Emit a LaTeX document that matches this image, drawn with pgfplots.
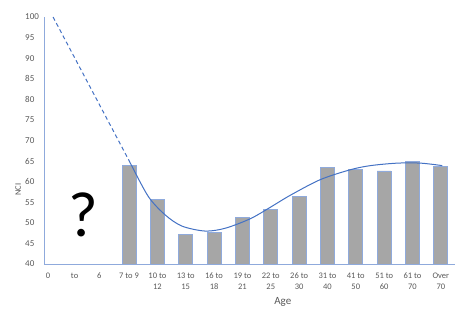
\documentclass[border=0pt]{standalone}
\usepackage{pgfplots}
\pgfplotsset{compat=1.18}
\usepackage{fontspec}
\setmainfont{Carlito}
\usetikzlibrary{calc}
\definecolor{axblue}{RGB}{143,170,220}
\definecolor{barfill}{RGB}{166,166,166}
\definecolor{trend}{RGB}{68,114,196}
\definecolor{txtgray}{RGB}{89,89,89}
\begin{document}
\begin{tikzpicture}
\begin{axis}[
  name=ax,
  scale only axis,
  width=411pt, height=247pt,
  xmin=0, xmax=14.5,
  ymin=40, ymax=100,
  axis x line=bottom, axis y line=left,
  axis line style={-, draw=axblue, line width=0.8pt},
  clip=false,
  ytick={40,45,...,100},
  xtick={0.14,1.08,1.95,3,4,5,6,7,8,9,10,11,12,13,14},
  xticklabels={0,to,6,7 to 9,10 to\\12,13 to\\15,16 to\\18,19 to\\21,22 to\\25,26 to\\30,31 to\\40,41 to\\50,51 to\\60,61 to\\70,Over\\70},
  major tick length=0pt,
  /pgf/number format/assume math mode=true,
  tick label style={text=txtgray},
  yticklabel style={anchor=west, inner sep=0pt, xshift=-19pt, font=\fontsize{9}{11}\selectfont},
  xticklabel style={align=center, anchor=north, inner sep=0pt, yshift=-9pt, font=\fontsize{8.5}{10.5}\selectfont},
  ylabel={NCI},
  ylabel style={at={(axis description cs:-0.063,0.30)}, anchor=center, font=\fontsize{8.5}{10}\selectfont, text=txtgray},
  xlabel={Age},
  xlabel style={at={(axis description cs:0.581,-0.154)}, anchor=center, font=\fontsize{11}{13}\selectfont, text=txtgray},
]
\addplot[ybar, bar width=14pt, fill=barfill, draw=axblue, line width=0.8pt] coordinates {
  (3,63.9) (4,55.7) (5,47.1) (6,47.6) (7,51.2) (8,53.3) (9,56.3) (10,63.4) (11,63.0) (12,62.6) (13,64.9) (14,63.8)
};
\addplot[trend, line width=1pt, dash pattern=on 4pt off 3pt] coordinates {
  (0.32,100) (3.04,64.6)
};
\addplot[trend, line width=1pt, smooth] coordinates {
  (3.04,64.6) (3.68,56.4) (4.28,51.9) (4.87,49.2) (5.69,48.0) (6.40,48.7) (7.28,51.0) (7.99,53.8) (8.69,56.7) (9.75,60.5) (10.81,62.9) (11.52,63.9) (12.46,64.5) (13.29,64.5) (14.05,63.9)
};
\node[font=\fontsize{64}{64}\selectfont, text=black] at (axis cs:1.38,52) {?};
\end{axis}
\path[use as bounding box] ($(ax.south west)+(-44pt,-50pt)$) rectangle ($(ax.north east)+(15pt,17pt)$);
\end{tikzpicture}
\end{document}
